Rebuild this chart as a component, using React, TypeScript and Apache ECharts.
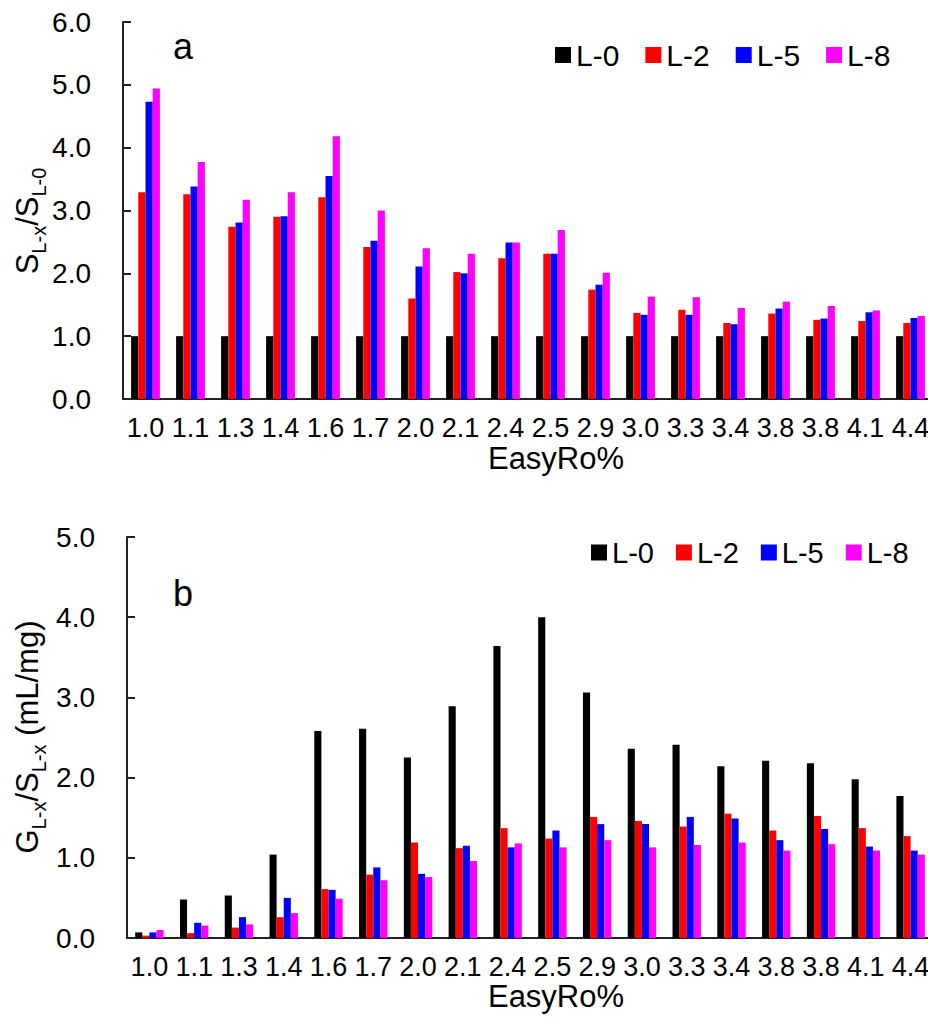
import React, { useEffect, useRef } from "react";
import * as echarts from "echarts";

const categories = ["1.0", "1.1", "1.3", "1.4", "1.6", "1.7", "2.0", "2.1", "2.4", "2.5", "2.9", "3.0", "3.3", "3.4", "3.8", "3.8", "4.1", "4.4"];
const seriesNames = ["L-0", "L-2", "L-5", "L-8"];
const seriesColors = ["#000000", "#ff0000", "#0000ff", "#ff00ff"];

// Panel a: S(L-x)/S(L-0)
const aL0 = [1.0, 1.0, 1.0, 1.0, 1.0, 1.0, 1.0, 1.0, 1.0, 1.0, 1.0, 1.0, 1.0, 1.0, 1.0, 1.0, 1.0, 1.0];
const aL2 = [3.29, 3.26, 2.74, 2.9, 3.21, 2.42, 1.6, 2.02, 2.24, 2.31, 1.74, 1.37, 1.42, 1.21, 1.36, 1.26, 1.24, 1.21];
const aL5 = [4.73, 3.38, 2.81, 2.91, 3.55, 2.52, 2.11, 2.0, 2.49, 2.31, 1.82, 1.34, 1.34, 1.19, 1.44, 1.28, 1.38, 1.29];
const aL8 = [4.94, 3.77, 3.17, 3.29, 4.18, 3.0, 2.4, 2.31, 2.49, 2.69, 2.01, 1.63, 1.62, 1.45, 1.55, 1.48, 1.41, 1.32];

// Panel b: G(L-x)/S(L-x) (mL/mg)
const bL0 = [0.07, 0.48, 0.53, 1.04, 2.58, 2.61, 2.25, 2.89, 3.64, 4.0, 3.06, 2.36, 2.41, 2.14, 2.21, 2.18, 1.98, 1.77];
const bL2 = [0.03, 0.06, 0.13, 0.26, 0.61, 0.79, 1.19, 1.12, 1.37, 1.24, 1.51, 1.46, 1.39, 1.55, 1.34, 1.52, 1.37, 1.27];
const bL5 = [0.07, 0.19, 0.26, 0.5, 0.6, 0.88, 0.8, 1.15, 1.13, 1.34, 1.42, 1.42, 1.51, 1.49, 1.22, 1.36, 1.14, 1.09];
const bL8 = [0.1, 0.155, 0.17, 0.31, 0.49, 0.72, 0.76, 0.96, 1.18, 1.13, 1.22, 1.13, 1.16, 1.19, 1.09, 1.17, 1.09, 1.04];

const yTicksA = { min: 0, max: 6, interval: 1 };
const yTicksB = { min: 0, max: 5, interval: 1 };

const FONT = "'Liberation Sans', Arial, sans-serif";
const AXIS_COLOR = "#222";

export default function App() {
  const ref = useRef<HTMLDivElement>(null);

  useEffect(() => {
    if (!ref.current) return;
    const chart = echarts.init(ref.current, undefined, { renderer: "svg" });

    const xAxisBase = (gridIndex: number, nameGap: number, shift: number) => ({
      type: "category",
      gridIndex,
      data: categories,
      axisLine: { lineStyle: { color: AXIS_COLOR, width: 2 } },
      axisTick: { show: false },
      axisLabel: { interval: 0, fontSize: 27, color: "#000", fontFamily: FONT, margin: 15 },
      name: "EasyRo%",
      nameLocation: "middle",
      nameGap,
      nameTextStyle: { fontSize: 31, color: "#000", fontFamily: FONT, padding: [0, 0, 0, shift] },
    });

    const yAxisBase = (gridIndex: number, t: { min: number; max: number; interval: number }) => ({
      type: "value",
      gridIndex,
      position: "left",
      min: t.min,
      max: t.max,
      interval: t.interval,
      splitLine: { show: false },
      axisLine: { show: true, lineStyle: { color: AXIS_COLOR, width: 2 } },
      axisTick: { show: true, inside: true, length: 8, lineStyle: { color: AXIS_COLOR, width: 2 } },
      axisLabel: {
        fontSize: 28,
        color: "#000",
        fontFamily: FONT,
        margin: 32,
        formatter: (v: number) => v.toFixed(1),
      },
    });

    const dataA = [aL0, aL2, aL5, aL8];
    const dataB = [bL0, bL2, bL5, bL8];

    const series: any[] = [];
    dataA.forEach((d, i) => {
      series.push({
        type: "bar",
        name: seriesNames[i],
        xAxisIndex: 0,
        yAxisIndex: 0,
        data: d,
        barWidth: 7.2,
        barGap: "0%",
        itemStyle: { color: seriesColors[i] },
      });
    });
    dataB.forEach((d, i) => {
      series.push({
        type: "bar",
        name: seriesNames[i],
        xAxisIndex: 1,
        yAxisIndex: 1,
        data: d,
        barWidth: 7.1,
        barGap: "0%",
        itemStyle: { color: seriesColors[i] },
      });
    });

    const legendBase = {
      data: seriesNames,
      orient: "horizontal",
      padding: 0,
      itemWidth: 16,
      itemHeight: 16,
      icon: "rect",
    };

    chart.setOption({
      animation: false,
      backgroundColor: "#ffffff",
      textStyle: { fontFamily: FONT },
      grid: [
        { left: 123, top: 22, width: 810, height: 377, containLabel: false, outerBoundsMode: "none" },
        { left: 127, top: 537, width: 806, height: 401, containLabel: false, outerBoundsMode: "none" },
      ],
      xAxis: [xAxisBase(0, 44, 56), xAxisBase(1, 42, 52)],
      yAxis: [yAxisBase(0, yTicksA), yAxisBase(1, yTicksB)],
      legend: [
        {
          ...legendBase,
          left: 555,
          top: 40,
          itemGap: 26,
          textStyle: { fontSize: 30, color: "#000", fontFamily: FONT },
        },
        {
          ...legendBase,
          left: 591,
          top: 538,
          itemGap: 22,
          textStyle: { fontSize: 29, color: "#000", fontFamily: FONT },
        },
      ],
      graphic: [
        {
          type: "text",
          left: 173,
          top: 28,
          style: { text: "a", fontSize: 36, fill: "#000", fontFamily: FONT },
        },
        {
          type: "text",
          left: 173,
          top: 575,
          style: { text: "b", fontSize: 36, fill: "#000", fontFamily: FONT },
        },
        {
          type: "text",
          x: 27,
          y: 221,
          rotation: Math.PI / 2,
          style: {
            text: "{m|S}{s|L-x}{m|/S}{s|L-0}",
            align: "center",
            verticalAlign: "middle",
            fill: "#000",
            fontFamily: FONT,
            rich: {
              m: { fontSize: 31, fontFamily: FONT, fill: "#000" },
              s: { fontSize: 20, fontFamily: FONT, fill: "#000", verticalAlign: "bottom", padding: [0, 0, -6, 0] },
            },
          },
        },
        {
          type: "text",
          x: 27,
          y: 737,
          rotation: Math.PI / 2,
          style: {
            text: "{m|G}{s|L-x}{m|/S}{s|L-x}{m| (mL/mg)}",
            align: "center",
            verticalAlign: "middle",
            fill: "#000",
            fontFamily: FONT,
            rich: {
              m: { fontSize: 31, fontFamily: FONT, fill: "#000" },
              s: { fontSize: 20, fontFamily: FONT, fill: "#000", verticalAlign: "bottom", padding: [0, 0, -6, 0] },
            },
          },
        },
      ],
      series,
    });

    return () => {
      chart.dispose();
    };
  }, []);

  return (
    <div
      ref={ref}
      style={{ position: "fixed", left: 0, top: 0, width: 928, height: 1023, background: "#fff" }}
    />
  );
}
